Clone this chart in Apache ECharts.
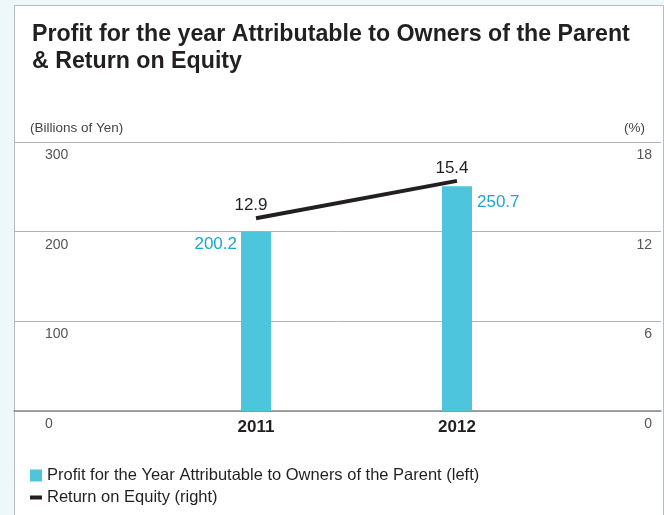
<!DOCTYPE html>
<html><head><meta charset="utf-8">
<script src="https://cdn.jsdelivr.net/npm/echarts@6/dist/echarts.min.js"></script>
<style>html,body{margin:0;padding:0;}#c{width:664px;height:515px;}</style>
</head><body><div id="c"></div>
<script>
var categories = ['2011', '2012'];
var profitValues = [200.2, 250.7];
var roeValues = [12.9, 15.4];
var leftTicks = {min: 0, max: 300, interval: 100};
var rightTicks = {min: 0, max: 18, interval: 6};
var seriesNames = ['Profit for the Year Attributable to Owners of the Parent (left)', 'Return on Equity (right)'];
var titleText = 'Profit for the year Attributable to Owners of the Parent\n& Return on Equity';

var FONT = '"Liberation Sans", Arial, Helvetica, sans-serif';
var chart = echarts.init(document.getElementById('c'));
var barLabelPos = [
  {position: [-4, 13], align: 'right', verticalAlign: 'middle'},
  {position: [35, 16], align: 'left', verticalAlign: 'middle'}
];
chart.setOption({
  backgroundColor: '#eef7fa',
  textStyle: {fontFamily: FONT},
  animation: false,
  graphic: [
    {type: 'rect', left: 14, top: 5, z: -10, shape: {width: 649, height: 520},
     style: {fill: '#ffffff', stroke: '#b9bcbd', lineWidth: 1}},
    {type: 'text', left: 30, top: 121, style: {text: '(Billions of Yen)', fill: '#444', font: '13.5px ' + FONT}},
    {type: 'text', right: 19, top: 121, style: {text: '(%)', fill: '#444', font: '13.5px ' + FONT}}
  ],
  title: {
    text: titleText, left: 27, top: 16,
    textStyle: {fontSize: 23.2, fontWeight: 'bold', color: '#231f20', lineHeight: 27, fontFamily: FONT}
  },
  legend: {
    orient: 'vertical', left: 25, top: 462, itemWidth: 12, itemHeight: 12, itemGap: 5, itemStyle: {borderWidth: 0},
    textStyle: {fontSize: 16.5, color: '#231f20', lineHeight: 16, fontFamily: FONT},
    data: [{name: seriesNames[0], icon: 'rect'}, {name: seriesNames[1], icon: 'path://M0,0 H12 V4 H0 Z'}]
  },
  grid: [
    {left: 14, right: 3, top: 142, bottom: 104},
    {left: 155.5, right: 106.5, top: 142, bottom: 104}
  ],
  xAxis: [
    {gridIndex: 0, type: 'value', min: 0, max: 1, axisLabel: {show: false}, axisTick: {show: false},
     splitLine: {show: false}, axisLine: {show: true, lineStyle: {color: '#8a8a8a', width: 1.5}}},
    {gridIndex: 1, type: 'category', data: categories, axisLine: {show: false}, axisTick: {show: false},
     axisLabel: {fontSize: 17, fontWeight: 'bold', color: '#231f20', margin: 8}}
  ],
  yAxis: [
    {gridIndex: 0, type: 'value', min: leftTicks.min, max: leftTicks.max, interval: leftTicks.interval,
     position: 'left', axisLine: {show: false}, axisTick: {show: false},
     axisLabel: {inside: true, margin: 31, align: 'left', verticalAlign: 'top', padding: [6, 0, 0, 0], fontSize: 14, color: '#555'},
     splitLine: {lineStyle: {color: '#b3b3b3', width: 1}}},
    {gridIndex: 0, type: 'value', min: rightTicks.min, max: rightTicks.max, interval: rightTicks.interval,
     position: 'right', axisLine: {show: false}, axisTick: {show: false},
     axisLabel: {inside: true, margin: 9, align: 'right', verticalAlign: 'top', padding: [6, 0, 0, 0], fontSize: 14, color: '#555'},
     splitLine: {show: false}},
    {gridIndex: 1, type: 'value', min: leftTicks.min, max: leftTicks.max, show: false},
    {gridIndex: 1, type: 'value', min: rightTicks.min, max: rightTicks.max, show: false}
  ],
  series: [
    {name: seriesNames[0], type: 'bar', xAxisIndex: 1, yAxisIndex: 2, barWidth: 30,
     itemStyle: {color: '#4dc6dd'},
     data: profitValues.map(function (v, i) {
       return {value: v, label: Object.assign({show: true, fontSize: 17, color: '#1ba7cf'}, barLabelPos[i])};
     })},
    {name: seriesNames[1], type: 'line', xAxisIndex: 1, yAxisIndex: 3, symbol: 'circle', symbolSize: 0.1, showSymbol: true,
     lineStyle: {color: '#231f20', width: 4}, itemStyle: {color: '#231f20'},
     label: {show: true, position: 'top', distance: 4, fontSize: 17, color: '#231f20', offset: [-5, 0]},
     data: roeValues}
  ]
});
</script></body></html>
